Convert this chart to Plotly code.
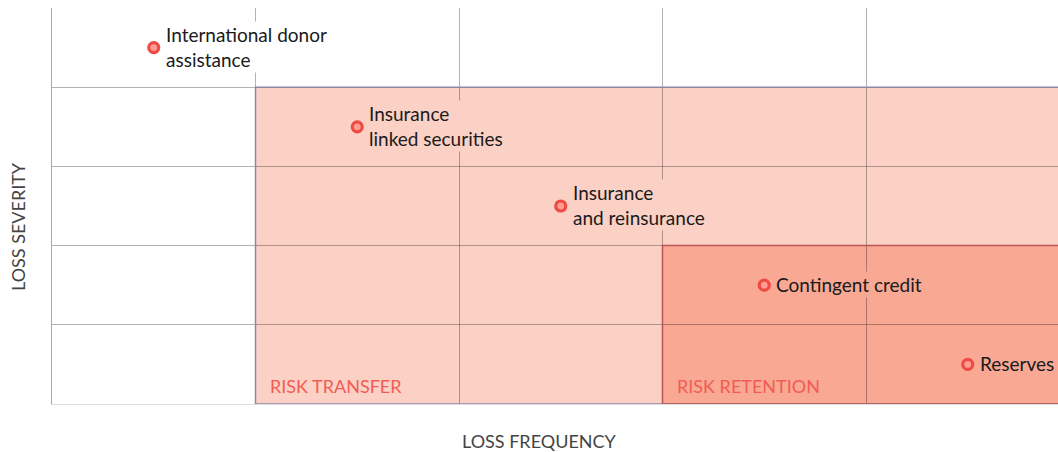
import plotly.graph_objects as go

# data
labels = ["International donor<br>assistance", "Insurance<br>linked securities",
          "Insurance<br>and reinsurance", "Contingent credit", "Reserves"]
freq = [0.5, 1.5, 2.5, 3.5, 4.5]
severity = [4.5, 3.5, 2.5, 1.5, 0.5]
label_bg = ["#FFFFFF", "#FBD0C5", "#FBD0C5", "#F8A893", "#F8A893"]

regions = ["RISK TRANSFER", "RISK RETENTION"]
region_x0 = [1, 3]
region_x1 = [6, 6]
region_y1 = [4, 2]
region_fill = ["#FBD0C5", "#F8A893"]
region_line = ["#8E88A8", "#BC5654"]

W, H = 1058, 452
L, T, B = 52, 8, 48
PW = W - L
PH = H - T - B
UNIT_X = 203.5

fig = go.Figure()

shapes = []
for x0, x1, y1, fc, lc in zip(region_x0, region_x1, region_y1, region_fill, region_line):
    shapes.append(dict(type="rect", xref="x", yref="y", x0=x0, x1=x1, y0=0, y1=y1,
                       fillcolor=fc, line=dict(width=0), layer="below"))
for x0, x1, y1, fc, lc in zip(region_x0, region_x1, region_y1, region_fill, region_line):
    shapes.append(dict(type="rect", xref="x", yref="y", x0=x0, x1=x1, y0=0, y1=y1,
                       fillcolor="rgba(0,0,0,0)", line=dict(color=lc, width=1.5), layer="between"))

fig.add_trace(go.Scatter(
    x=freq, y=severity, mode="markers",
    marker=dict(size=10, color="#FF9C92", line=dict(color="#EF4B45", width=3.2)),
    hoverinfo="skip", cliponaxis=False, showlegend=False))

ann = []
for lab, fx, sy, bg in zip(labels, freq, severity, label_bg):
    ann.append(dict(x=fx, y=sy, xref="x", yref="y", text=lab, showarrow=False,
                    xanchor="left", yanchor="middle", align="left", xshift=10, yshift=1,
                    bgcolor=bg, borderpad=1,
                    font=dict(family="Lato", size=19, color="#1a1a1a")))
for name, x0 in zip(regions, region_x0):
    ann.append(dict(x=x0, y=0, xref="x", yref="y", text=name, showarrow=False,
                    xanchor="left", yanchor="bottom", xshift=12, yshift=5,
                    font=dict(family="Lato", size=18, color="#F25C54")))
ann.append(dict(text="LOSS FREQUENCY", xref="paper", yref="paper",
                x=(539 - L) / PW, y=-(441 - 404) / PH, xanchor="center", yanchor="middle",
                showarrow=False, font=dict(family="Lato", size=18, color="#444444")))
ann.append(dict(text="LOSS SEVERITY", x=0, y=(404 - 227) / PH, showarrow=False, textangle=-90,
                xref="paper", yref="paper", xanchor="center", yanchor="middle",
                xshift=-(L - 18),
                font=dict(family="Lato", size=18, color="#444444")))

grid = "rgba(0,0,0,0.3)"
fig.update_layout(
    width=W, height=H,
    margin=dict(l=L, r=0, t=T, b=B, pad=0),
    paper_bgcolor="white", plot_bgcolor="white",
    shapes=shapes, annotations=ann,
    xaxis=dict(range=[0, PW / UNIT_X], tickvals=[1, 2, 3, 4], showticklabels=False,
               showgrid=True, gridcolor=grid, gridwidth=1, zeroline=False,
               showline=True, linecolor="#DDDDDD", linewidth=1, mirror=False,
               fixedrange=True),
    yaxis=dict(range=[0, 5], tickvals=[1, 2, 3, 4], showticklabels=False,
               showgrid=True, gridcolor=grid, gridwidth=1, zeroline=False,
               showline=True, linecolor="#AAAAAA", linewidth=1, mirror=False,
               fixedrange=True),
)

fig.write_html("out.html", config={"displayModeBar": False},
               post_script="document.body.style.margin='0';document.body.style.overflow='hidden';")
